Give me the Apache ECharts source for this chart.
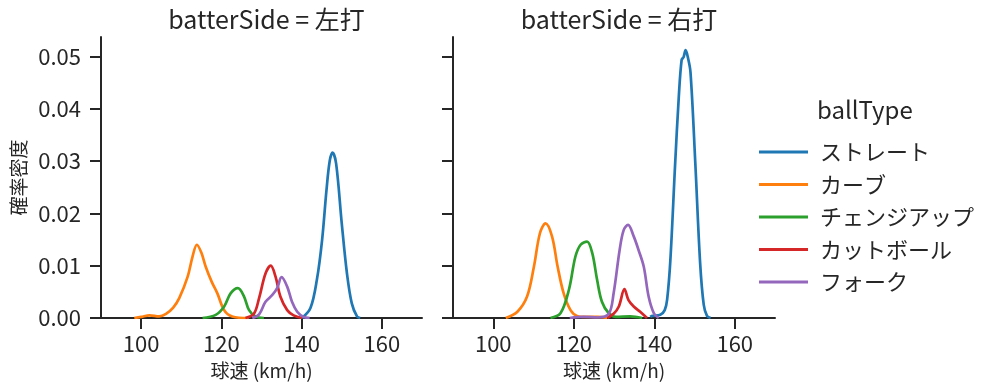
<!DOCTYPE html>
<html>
<head>
<meta charset="utf-8">
<script src="https://cdn.jsdelivr.net/npm/echarts@6/dist/echarts.min.js"></script>
<style>
html,body{margin:0;padding:0;background:#fff;}
#chart{width:999px;height:391px;}
</style>
</head>
<body>
<div id="chart"></div>
<script>
// ---- data ----
const ballTypes = ['ストレート', 'カーブ', 'チェンジアップ', 'カットボール', 'フォーク'];
const colors = ['#1f77b4', '#ff7f0e', '#2ca02c', '#d62728', '#9467bd'];
const panelTitles = ['batterSide = 左打', 'batterSide = 右打'];
const xTicks = [100, 120, 140, 160];
const yTicks = [0, 0.01, 0.02, 0.03, 0.04, 0.05];

// 左打 (density curves: [km/h, density])
const leftStraight = [[140.1,0],[142.2,0.0019],[143.8,0.0073],[145.1,0.0149],[146.2,0.0245],[147.0,0.0300],[147.7,0.0316],[148.6,0.0295],[150.0,0.0181],[151.3,0.0085],[152.5,0.0028],[153.8,0.0003],[154.6,0]];
const leftCurve = [[98.3,0],[100,0.0002],[102.1,0.0005],[104.5,0.0003],[106.2,0.0008],[108,0.0020],[109.5,0.0038],[111.6,0.0079],[112.8,0.0117],[113.9,0.0140],[115,0.0125],[116.1,0.0098],[117.6,0.0069],[119.0,0.0047],[120.7,0.0015],[122.7,0.0003],[126.8,0]];
const leftChange = [[115.3,0],[118.6,0.0006],[120.7,0.0022],[122.3,0.0047],[124.1,0.0057],[125.6,0.0042],[126.9,0.0015],[128.5,0.0003],[130.6,0]];
const leftCutter = [[126,0],[128.1,0.0008],[129.4,0.0038],[131.0,0.0085],[132.3,0.0100],[133.5,0.0079],[134.7,0.0041],[136.4,0.0015],[138.0,0.0005],[140.1,0]];
const leftFork = [[127.7,0],[129.4,0.0007],[131.0,0.0031],[132.7,0.0044],[133.9,0.0057],[135.0,0.0078],[136.4,0.0060],[137.6,0.0031],[138.9,0.0012],[140.5,0.0002],[142,0]];

// 右打
const rightStraight = [[139.0,0.0002],[139.5,0.0004],[141.5,0.0006],[142.6,0.0015],[143.2,0.0035],[144.0,0.0110],[145.2,0.0296],[146.1,0.0423],[146.8,0.0493],[147.3,0.0499],[147.8,0.0512],[148.3,0.0500],[149.0,0.0470],[150.2,0.0296],[151.4,0.0105],[152.3,0.0025],[153.1,0.0004],[154,0]];
const rightCurve = [[103.1,0],[106.0,0.0012],[108.4,0.0041],[110.1,0.0098],[111.6,0.0162],[113.0,0.0181],[114.6,0.0156],[116.0,0.0098],[117.5,0.0047],[119.2,0.0015],[120.8,0.0004],[123,0.0002],[126,0.0002],[128.3,0]];
const rightChange = [[114.2,0],[116.7,0.0009],[118.8,0.0054],[120.4,0.0117],[121.7,0.0140],[123.3,0.0146],[124.6,0.0124],[125.8,0.0073],[127.0,0.0031],[128.7,0.0009],[130.5,0.0002],[134,0.0003],[137,0]];
const rightCutter = [[128.3,0],[129.9,0.0008],[131.2,0.0022],[132.6,0.0055],[133.6,0.0034],[134.9,0.0022],[136.5,0.0012],[138.2,0]];
const rightFork = [[119,0],[122.4,0.0002],[126,0.0001],[128.7,0.0008],[129.9,0.0047],[131.4,0.0130],[132.4,0.0168],[133.5,0.0178],[134.9,0.0156],[136.1,0.0130],[137.4,0.0098],[138.6,0.0041],[139.9,0.0009],[141.1,0]];

const panels = [
  [leftStraight, leftCurve, leftChange, leftCutter, leftFork],
  [rightStraight, rightCurve, rightChange, rightCutter, rightFork]
];

// ---- chart ----
const FONT = '"Noto Sans CJK JP", "Noto Sans", sans-serif';
const INK = '#262626';
const chart = echarts.init(document.getElementById('chart'), null, {renderer: 'canvas'});

const grids = [
  {left: 101, right: 577, top: 37, bottom: 73},
  {left: 453, right: 224, top: 37, bottom: 73}
];

function xAxis(i) {
  return {
    type: 'value', gridIndex: i, min: 90, max: 170,
    splitLine: {show: false},
    axisLine: {show: true, lineStyle: {color: INK, width: 2}},
    axisTick: {show: true, length: 11, lineStyle: {color: INK, width: 2}, customValues: xTicks},
    axisLabel: {show: true, margin: 15, fontSize: 22, color: INK, fontFamily: FONT, customValues: xTicks},
    name: '球速 (km/h)', nameLocation: 'middle', nameGap: 43,
    nameTextStyle: {fontSize: 19, color: INK, fontFamily: FONT}
  };
}
function yAxis(i) {
  return {
    type: 'value', gridIndex: i, min: 0, max: 0.0537,
    splitLine: {show: false},
    axisLine: {show: true, lineStyle: {color: INK, width: 2}},
    axisTick: {show: true, length: 11, lineStyle: {color: INK, width: 2}, customValues: yTicks},
    axisLabel: {show: i === 0, margin: 20, fontSize: 22, color: INK, fontFamily: FONT,
      customValues: yTicks, formatter: v => v.toFixed(2)},
    name: i === 0 ? '確率密度' : '', nameLocation: 'middle', nameGap: 73, nameRotate: 90,
    nameTextStyle: {fontSize: 19, color: INK, fontFamily: FONT}
  };
}

const series = [];
panels.forEach((curves, p) => {
  curves.forEach((data, k) => {
    series.push({
      name: ballTypes[k], type: 'line', xAxisIndex: p, yAxisIndex: p,
      data: data, smooth: 0.35, showSymbol: false, symbol: 'none',
      lineStyle: {color: colors[k], width: 2.7},
      itemStyle: {color: colors[k]},
      z: 2 + k, animation: false
    });
  });
});

chart.setOption({
  animation: false,
  backgroundColor: '#fff',
  title: [
    {text: panelTitles[0], left: 261.5, top: 2, textAlign: 'center',
      textStyle: {fontSize: 25, fontWeight: 'normal', color: INK, fontFamily: FONT}},
    {text: panelTitles[1], left: 614, top: 2, textAlign: 'center',
      textStyle: {fontSize: 25, fontWeight: 'normal', color: INK, fontFamily: FONT}}
  ],
  grid: grids,
  xAxis: [xAxis(0), xAxis(1)],
  yAxis: [yAxis(0), yAxis(1)],
  legend: {
    orient: 'vertical', left: 754, top: 136,
    data: ballTypes.map(n => ({name: n, icon: 'rect'})),
    itemWidth: 49, itemHeight: 3, itemGap: 10.5,
    textStyle: {fontSize: 22, lineHeight: 22, color: INK, fontFamily: FONT, padding: [0, 0, 0, 7]},
    selectedMode: false
  },
  graphic: [{
    type: 'text', left: 817, top: 98,
    style: {text: 'ballType', fontSize: 24, fill: INK, fontFamily: FONT}
  }],
  series: series
});
</script>
</body>
</html>
